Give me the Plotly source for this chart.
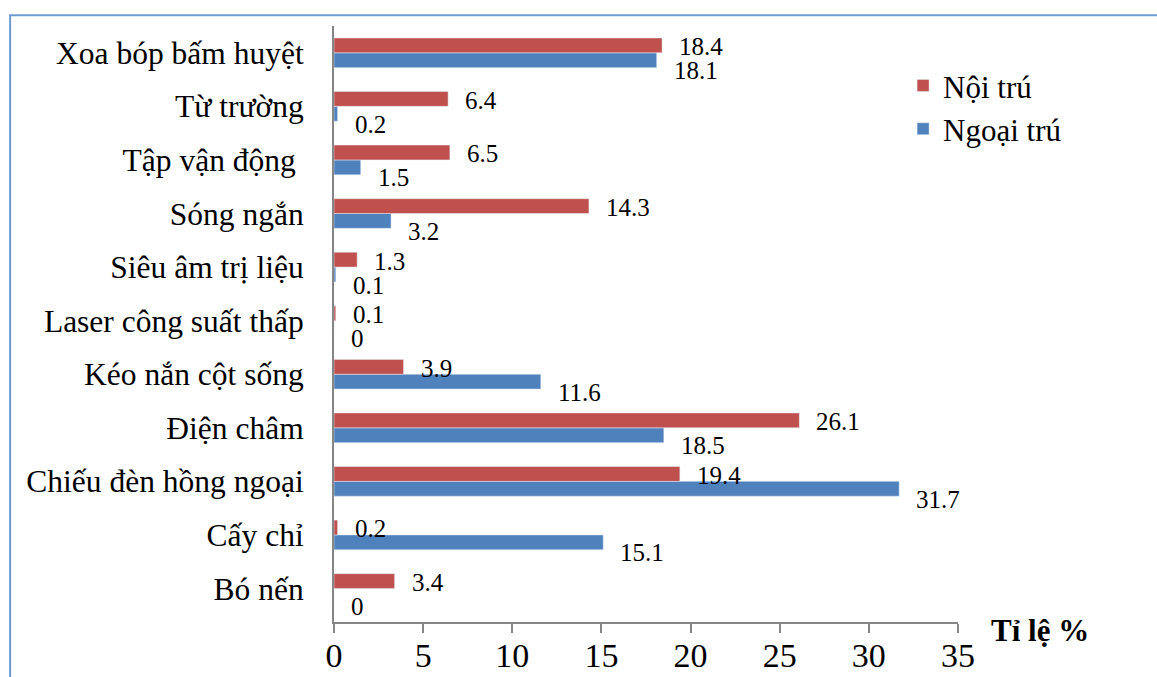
import plotly.graph_objects as go

# Physiotherapy / traditional-medicine methods (bottom to top)
categories = [
    "Bó nến",
    "Cấy chỉ",
    "Chiếu đèn hồng ngoại",
    "Điện châm",
    "Kéo nắn cột sống",
    "Laser công suất thấp",
    "Siêu âm trị liệu",
    "Sóng ngắn",
    "Tập vận động ",
    "Từ trường",
    "Xoa bóp bấm huyệt",
]
noi_tru = [3.4, 0.2, 19.4, 26.1, 3.9, 0.1, 1.3, 14.3, 6.5, 6.4, 18.4]
ngoai_tru = [0, 15.1, 31.7, 18.5, 11.6, 0, 0.1, 3.2, 1.5, 0.2, 18.1]
x_ticks = [0, 5, 10, 15, 20, 25, 30, 35]

RED = "#C0504D"
BLUE = "#4F81BD"
FONT = "Liberation Serif, Times New Roman, serif"

fig = go.Figure()
fig.add_trace(go.Bar(y=categories, x=ngoai_tru, orientation="h",
                     name="Ngoại trú", marker=dict(color=BLUE)))
fig.add_trace(go.Bar(y=categories, x=noi_tru, orientation="h",
                     name="Nội trú", marker=dict(color=RED)))

# value labels just beyond the bar ends
for cat, v in zip(categories, noi_tru):
    fig.add_annotation(x=v, y=cat, text=f"{v:g}", showarrow=False,
                       xanchor="left", yanchor="middle", xshift=15, yshift=6,
                       font=dict(family=FONT, size=25, color="black"))
for cat, v in zip(categories, ngoai_tru):
    fig.add_annotation(x=v, y=cat, text=f"{v:g}", showarrow=False,
                       xanchor="left", yanchor="middle", xshift=15, yshift=-18,
                       font=dict(family=FONT, size=25, color="black"))

# axis title at the right end of the value axis
fig.add_annotation(x=1.05, y=-0.015, xref="paper", yref="paper", text="<b>Tỉ lệ %</b>",
                   showarrow=False, xanchor="left", yanchor="middle",
                   font=dict(family=FONT, size=31, color="black"))

# outer frame
fig.add_shape(type="rect", xref="paper", yref="paper",
              x0=-0.519, x1=1.33, y0=-0.2, y1=1.018,
              line=dict(color="#6E9AD2", width=2), fillcolor="rgba(0,0,0,0)", layer="below")

fig.update_layout(
    width=1157, height=677,
    margin=dict(l=334, r=199, t=26, b=55, autoexpand=False),
    paper_bgcolor="white", plot_bgcolor="white",
    barmode="group", bargap=0.446, bargroupgap=0,
    font=dict(family=FONT, color="black"),
    legend=dict(x=0.912, y=0.945, xanchor="left", yanchor="top",
                traceorder="reversed", font=dict(family=FONT, size=31),
                bgcolor="rgba(0,0,0,0)", tracegroupgap=0),
    xaxis=dict(range=[0, 35], tickvals=x_ticks, ticktext=[str(t) for t in x_ticks],
               showgrid=False, zeroline=False, showline=True, linecolor="#868686",
               linewidth=2, ticks="outside", ticklen=9, tickwidth=2, tickcolor="#868686",
               ticklabelstandoff=-7, automargin=False,
               tickfont=dict(family=FONT, size=34, color="black")),
    yaxis=dict(showgrid=False, zeroline=False, showline=True, linecolor="#868686",
               linewidth=2, ticks="", ticklabelstandoff=22, automargin=False,
               tickfont=dict(family=FONT, size=31.5, color="black")),
)

fig.write_html("out.html")
